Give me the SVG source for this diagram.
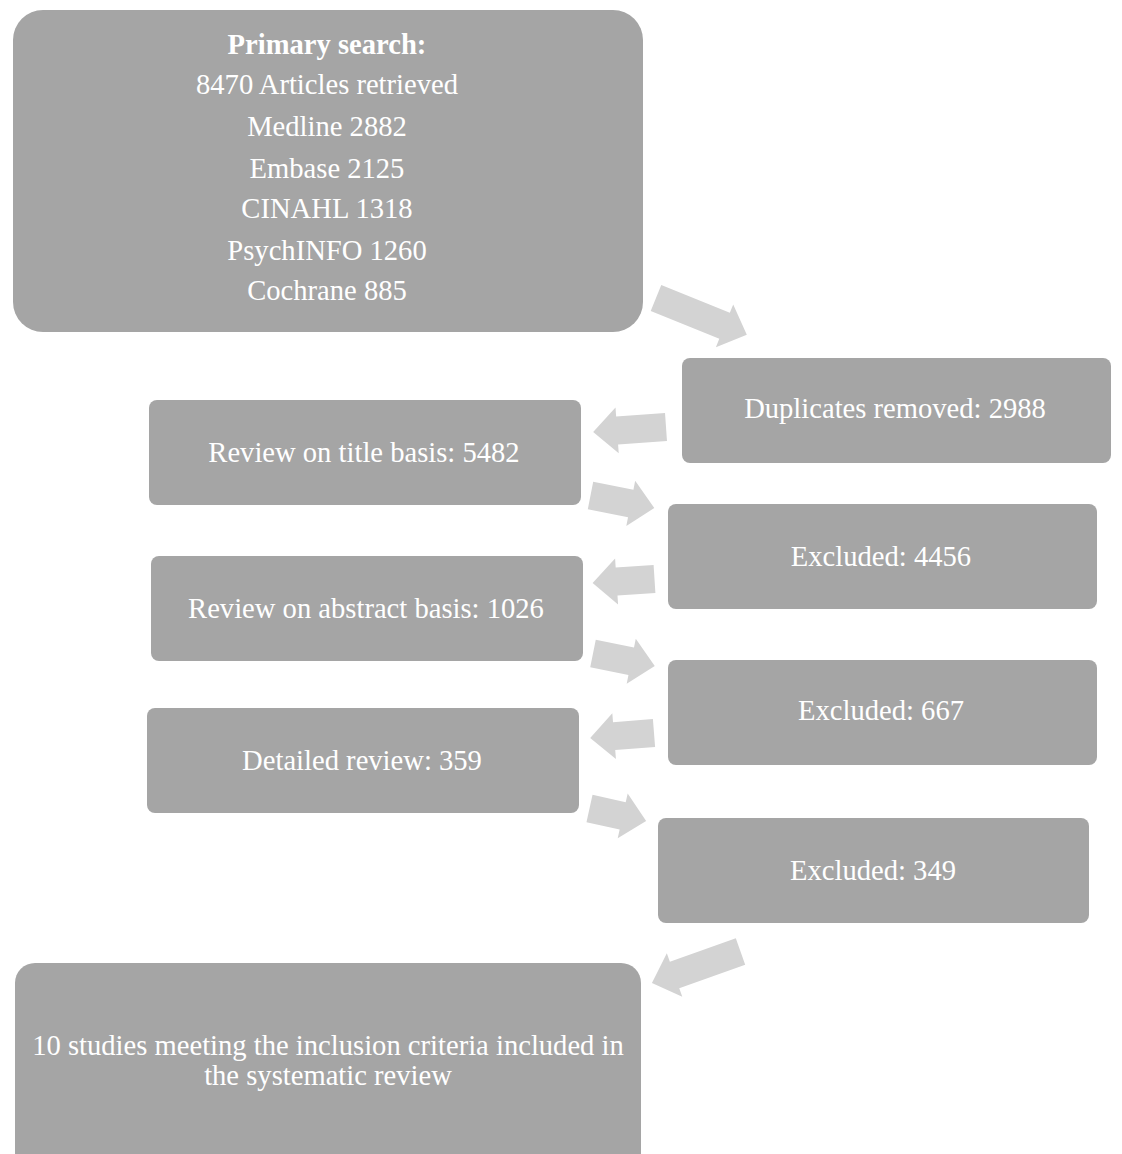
<svg xmlns="http://www.w3.org/2000/svg" width="1122" height="1154" viewBox="0 0 1122 1154">
<style>
.box{fill:#a5a5a5}
.t{fill:#ffffff;font-family:"Liberation Serif","Times New Roman",serif;font-size:28.6px;text-anchor:middle}
.b{font-weight:bold}
.arr{fill:#d3d3d3}
</style>
<rect width="1122" height="1154" fill="#ffffff"/>
<g id="connectors">
<path class="arr" d="M0,-14 H74 V-23 L98,0 L74,23 V14 H0 Z" transform="translate(656,298) rotate(22.1)"/>
<path class="arr" d="M0,-14 H49 V-23 L73,0 L49,23 V14 H0 Z" transform="translate(666,427) rotate(176)"/>
<path class="arr" d="M0,-14 H41 V-23 L65,0 L41,23 V14 H0 Z" transform="translate(590.5,495.5) rotate(11.1)"/>
<path class="arr" d="M0,-14 H38 V-23 L62,0 L38,23 V14 H0 Z" transform="translate(654.5,579) rotate(176.3)"/>
<path class="arr" d="M0,-14 H39 V-23 L63,0 L39,23 V14 H0 Z" transform="translate(593,653.5) rotate(11.4)"/>
<path class="arr" d="M0,-14 H40 V-23 L64,0 L40,23 V14 H0 Z" transform="translate(654,733) rotate(175.5)"/>
<path class="arr" d="M0,-14 H34 V-23 L58,0 L34,23 V14 H0 Z" transform="translate(589.5,808.5) rotate(12.5)"/>
<path class="arr" d="M0,-14 H70 V-23 L94,0 L70,23 V14 H0 Z" transform="translate(740.5,951.5) rotate(160.4)"/>
</g>
<g id="primary">
<rect class="box" x="13" y="10" width="630" height="322" rx="30"/>
<text class="t b" x="327" y="54">Primary search:</text>
<text class="t" x="327" y="94">8470 Articles retrieved</text>
<text class="t" x="327" y="136">Medline 2882</text>
<text class="t" x="327" y="178">Embase 2125</text>
<text class="t" x="327" y="218">CINAHL 1318</text>
<text class="t" x="327" y="260">PsychINFO 1260</text>
<text class="t" x="327" y="300">Cochrane 885</text>
</g>
<g id="duplicates">
<rect class="box" x="682" y="358" width="429" height="105" rx="8"/>
<text class="t" x="895" y="418">Duplicates removed: 2988</text>
</g>
<g id="title-review">
<rect class="box" x="149" y="400" width="432" height="105" rx="8"/>
<text class="t" x="364" y="462">Review on title basis: 5482</text>
</g>
<g id="excluded1">
<rect class="box" x="668" y="504" width="429" height="105" rx="8"/>
<text class="t" x="881" y="566">Excluded: 4456</text>
</g>
<g id="abstract-review">
<rect class="box" x="151" y="556" width="432" height="105" rx="8"/>
<text class="t" x="366" y="618">Review on abstract basis: 1026</text>
</g>
<g id="excluded2">
<rect class="box" x="668" y="660" width="429" height="105" rx="8"/>
<text class="t" x="881" y="720">Excluded: 667</text>
</g>
<g id="detailed-review">
<rect class="box" x="147" y="708" width="432" height="105" rx="8"/>
<text class="t" x="362" y="770">Detailed review: 359</text>
</g>
<g id="excluded3">
<rect class="box" x="658" y="818" width="431" height="105" rx="8"/>
<text class="t" x="873" y="880">Excluded: 349</text>
</g>
<g id="included">
<rect class="box" x="15" y="963" width="626" height="220" rx="20"/>
<text class="t" x="328" y="1055">10 studies meeting the inclusion criteria included in</text>
<text class="t" x="328" y="1085">the systematic review</text>
</g>
</svg>
